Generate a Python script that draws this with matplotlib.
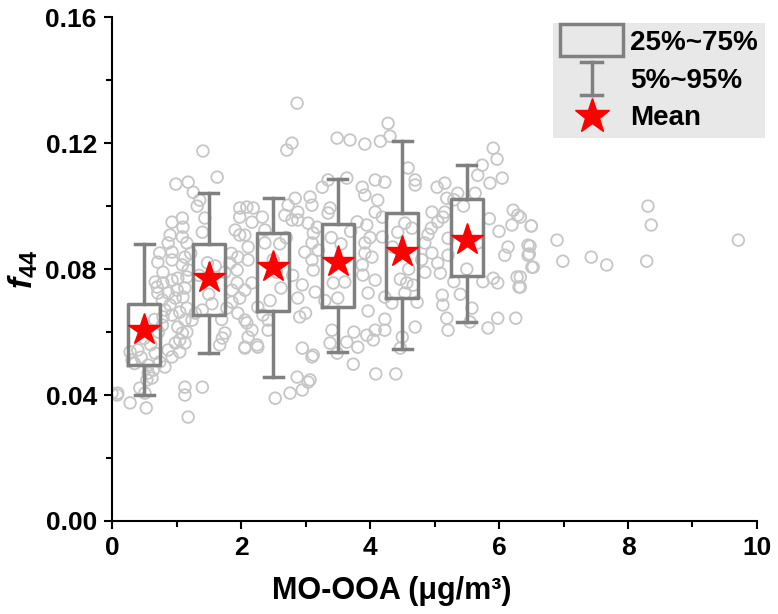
import numpy as np
import matplotlib
matplotlib.use('Agg')
import matplotlib.pyplot as plt
from matplotlib.patches import Rectangle
from matplotlib.lines import Line2D
from matplotlib.legend_handler import HandlerBase
from matplotlib.ticker import MultipleLocator

plt.rcParams['font.family'] = ['Liberation Sans', 'DejaVu Sans']
plt.rcParams['font.weight'] = 'bold'
plt.rcParams['mathtext.fontset'] = 'custom'
plt.rcParams['mathtext.rm'] = 'Liberation Sans:bold'
plt.rcParams['mathtext.it'] = 'Liberation Sans:italic:bold'
plt.rcParams['mathtext.bf'] = 'Liberation Sans:bold'

# individual samples (MO-OOA, f44)
mo_ooa = [
    6.90, 6.99, 7.43, 7.67, 8.31, 8.36, 8.29, 9.71,
    6.33, 6.50, 6.48, 6.47, 6.53, 6.33, 6.33,
    3.74, 4.09, 4.40, 3.97, 4.23, 3.75, 3.81, 3.41, 3.38, 3.64, 3.95, 4.08, 4.05,
    4.23, 4.50, 4.70, 4.47, 3.49, 5.12, 5.13, 5.19, 5.21, 5.58, 5.55, 5.83, 5.98,
    6.26, 5.91, 5.98, 6.28, 6.31, 6.51, 6.45, 6.09, 5.09, 5.05, 4.85, 4.96, 5.21,
    4.03, 3.89, 4.08, 3.97, 4.23, 4.34, 4.54, 4.57, 4.67, 4.73, 3.43, 3.61, 3.50,
    3.88, 4.47, 3.92,
    4.28, 3.49, 3.69, 3.92, 4.16, 4.31, 4.59, 5.91, 5.97, 5.74, 5.67, 5.86, 6.05,
    3.35, 3.64, 3.88, 4.08, 4.23, 4.70, 4.70, 5.04, 5.16, 5.19, 5.36, 5.63, 3.92,
    4.12, 3.38, 3.35, 4.08, 4.19, 3.95, 4.96, 5.13, 5.16, 6.22, 6.29, 6.50, 4.54,
    4.65, 4.19, 3.92, 4.43, 4.85, 5.21, 6.14, 6.45, 5.67,
    2.87, 2.79, 2.71, 1.41, 1.63, 0.99, 1.18, 1.26, 1.36, 1.32, 0.93, 1.09, 1.10,
    0.90, 1.09, 0.87, 1.16, 1.44, 1.40, 1.98, 2.09, 2.19, 1.98, 2.33, 1.91, 1.98,
    2.06, 2.17, 2.37, 2.11, 2.84, 2.73, 2.88, 2.68, 2.79, 2.88, 3.07, 3.10, 3.04,
    3.18, 3.12, 3.10, 3.26, 2.37,
    0.09, 0.28, 0.53, 0.43, 0.54, 0.62, 0.64, 0.56, 0.31, 0.28, 0.40, 0.67, 0.74,
    0.82, 0.87, 0.93, 1.05, 0.98, 1.05, 1.13, 1.09, 1.16, 1.02, 1.13, 0.93, 1.05,
    1.16, 0.90, 0.98, 1.10, 0.87, 1.01, 1.13, 0.79, 0.67, 0.93, 1.02, 1.16, 0.79,
    0.70, 0.71, 0.78, 0.82, 0.79, 0.78, 0.71, 0.93, 1.09, 1.18, 0.93, 1.13, 0.74,
    1.13, 1.40, 1.18, 0.51, 0.56, 1.24, 1.29, 1.40, 1.78, 1.86, 1.98, 2.06, 2.17,
    1.95, 2.06, 2.17, 2.11, 2.06, 2.26, 2.34, 2.42, 2.42, 2.26, 1.75, 1.71, 1.67,
    1.94, 1.94, 1.95, 2.11, 1.83, 1.75, 1.86, 2.99, 3.10, 3.12, 3.15, 2.88, 2.91,
    2.95, 3.10, 2.87, 2.95, 3.04, 2.76, 2.53, 1.13,
    0.08, 2.06, 2.25, 2.09, 3.07, 3.12, 0.00, 2.62, 2.55, 1.50, 1.55, 1.70, 2.45,
    2.60, 2.70, 1.35, 1.48, 1.22, 0.60, 0.72, 0.45, 0.35, 0.50, 0.66, 1.60, 1.85,
    2.50, 2.80, 3.30, 3.00, 2.95, 3.20, 3.40, 3.55, 3.70, 3.80, 4.00, 4.35, 4.60,
    4.80, 4.90, 5.30, 5.40, 5.50, 5.75, 5.85, 6.00, 6.20, 5.45, 5.30, 5.05, 4.95,
]
f44 = [
    0.0892, 0.0825, 0.0838, 0.0813, 0.1000, 0.0940, 0.0825, 0.0892,
    0.0965, 0.0937, 0.0873, 0.0848, 0.0806, 0.0775, 0.0743,
    0.0498, 0.0467, 0.0467, 0.0667, 0.0641, 0.0600, 0.0552, 0.0606, 0.0565, 0.0568,
    0.0590, 0.0606, 0.0575, 0.0606, 0.0584, 0.0616, 0.0549, 0.0533, 0.0717, 0.0686,
    0.0644, 0.0606, 0.0676, 0.0632, 0.0613, 0.0644, 0.0644, 0.0771, 0.0756, 0.0775,
    0.0743, 0.0806, 0.0844, 0.0844, 0.0787, 0.0819, 0.0790, 0.0851, 0.0844, 0.0838,
    0.0781, 0.0765, 0.0724, 0.0711, 0.0692, 0.0724, 0.0756, 0.0749, 0.0695, 0.0756,
    0.0759, 0.0708, 0.0813, 0.0768, 0.0851,
    0.1263, 0.1216, 0.1210, 0.1197, 0.1206, 0.1222, 0.1121, 0.1184, 0.1149, 0.1130,
    0.1098, 0.1073, 0.1089, 0.1083, 0.1089, 0.1060, 0.1083, 0.1076, 0.1083, 0.1067,
    0.1060, 0.1073, 0.1025, 0.1041, 0.1041, 0.1035, 0.1019, 0.0994, 0.0978, 0.0981,
    0.0965, 0.0940, 0.0981, 0.0965, 0.0981, 0.0987, 0.0971, 0.0937, 0.0946, 0.0930,
    0.0902, 0.0883, 0.0917, 0.0883, 0.0898, 0.0870, 0.0876, 0.0883,
    0.1327, 0.1200, 0.1178, 0.1175, 0.1092, 0.1070, 0.1076, 0.1044, 0.1019, 0.1000,
    0.0949, 0.0962, 0.0933, 0.0908, 0.0902, 0.0883, 0.0883, 0.0962, 0.0917, 0.0994,
    0.0997, 0.0994, 0.0965, 0.0965, 0.0924, 0.0908, 0.0908, 0.0949, 0.0924, 0.0870,
    0.1025, 0.1003, 0.0981, 0.0971, 0.0956, 0.0956, 0.1029, 0.1003, 0.0946, 0.0933,
    0.0914, 0.0883, 0.1060, 0.0883,
    0.0406, 0.0375, 0.0359, 0.0422, 0.0448, 0.0454, 0.0479, 0.0495, 0.0511, 0.0537,
    0.0543, 0.0533, 0.0505, 0.0489, 0.0543, 0.0521, 0.0537, 0.0565, 0.0575, 0.0565,
    0.0597, 0.0600, 0.0616, 0.0638, 0.0654, 0.0663, 0.0676, 0.0686, 0.0708, 0.0711,
    0.0724, 0.0733, 0.0740, 0.0756, 0.0759, 0.0765, 0.0771, 0.0775, 0.0790, 0.0743,
    0.0724, 0.0702, 0.0670, 0.0648, 0.0622, 0.0822, 0.0829, 0.0813, 0.0797, 0.0854,
    0.0838, 0.0851, 0.0425, 0.0425, 0.0330, 0.0406, 0.0470, 0.0638, 0.0660, 0.0670,
    0.0676, 0.0695, 0.0708, 0.0733, 0.0756, 0.0660, 0.0638, 0.0606, 0.0584, 0.0552,
    0.0552, 0.0654, 0.0638, 0.0606, 0.0679, 0.0597, 0.0581, 0.0559, 0.0756, 0.0797,
    0.0838, 0.0829, 0.0819, 0.0790, 0.0733, 0.0854, 0.0829, 0.0797, 0.0727, 0.0708,
    0.0648, 0.0549, 0.0521, 0.0457, 0.0416, 0.0441, 0.0406, 0.0390, 0.0400,
    0.0400, 0.0549, 0.0559, 0.0629, 0.0448, 0.0527, 0.0406, 0.0740, 0.0790, 0.0720,
    0.0690, 0.0640, 0.0700, 0.0880, 0.0900, 0.0780, 0.0820, 0.0850, 0.0560, 0.0600,
    0.0520, 0.0500, 0.0580, 0.0640, 0.0810, 0.0850, 0.0830, 0.0780, 0.0700, 0.0660,
    0.0750, 0.0860, 0.0900, 0.0880, 0.0920, 0.0950, 0.0900, 0.0870, 0.0800, 0.0830,
    0.0910, 0.0760, 0.0720, 0.0800, 0.0760, 0.0960, 0.0920, 0.0940, 0.1000, 0.1020,
    0.0950, 0.0930,
]

# binned statistics (1 ug/m3 bins)
bin_centers = [0.5, 1.5, 2.5, 3.5, 4.5, 5.5]
p5 = [0.0400, 0.0533, 0.0457, 0.0537, 0.0546, 0.0632]
p25 = [0.0495, 0.0654, 0.0667, 0.0679, 0.0708, 0.0778]
p75 = [0.0689, 0.0879, 0.0914, 0.0943, 0.0978, 0.1022]
p95 = [0.0879, 0.1041, 0.1025, 0.1086, 0.1206, 0.1130]
means = [0.0606, 0.0771, 0.0806, 0.0822, 0.0854, 0.0892]

gray = '#808080'


class BoxHandler(HandlerBase):
    def create_artists(self, legend, orig_handle, xdescent, ydescent,
                       width, height, fontsize, trans):
        r = Rectangle((-xdescent, -ydescent - 0.32 * height), width, 1.64 * height,
                      facecolor='none', edgecolor=gray, lw=2.5, transform=trans)
        return [r]


class WhiskerHandler(HandlerBase):
    def create_artists(self, legend, orig_handle, xdescent, ydescent,
                       width, height, fontsize, trans):
        cx = -xdescent + width / 2
        y0 = -ydescent - 0.4 * height
        y1 = -ydescent + 1.3 * height
        cw = 0.17 * width
        arts = [Line2D([cx, cx], [y0, y1], color=gray, lw=2.5, transform=trans),
                Line2D([cx - cw, cx + cw], [y0, y0], color=gray, lw=2.5, transform=trans),
                Line2D([cx - cw, cx + cw], [y1, y1], color=gray, lw=2.5, transform=trans)]
        return arts


fig = plt.figure(figsize=(7.78, 6.14), dpi=100)
ax = fig.add_axes([0.144, 0.1515, 0.829, 0.8205])

ax.scatter(mo_ooa, f44, s=70, facecolors='none', edgecolors='#c6c6c6',
           linewidths=1.3, zorder=1)

stats = []
for i in range(len(bin_centers)):
    stats.append(dict(med=means[i], q1=p25[i], q3=p75[i],
                      whislo=p5[i], whishi=p95[i], fliers=[]))
ax.bxp(stats, positions=bin_centers, widths=0.5, showfliers=False,
       manage_ticks=False,
       boxprops=dict(color=gray, lw=2.5),
       whiskerprops=dict(color=gray, lw=2.5),
       capprops=dict(color=gray, lw=2.5),
       medianprops=dict(lw=0), capwidths=0.3)
ax.plot(bin_centers, means, linestyle='none', marker='*', ms=24,
        color='#ff0000', mec='#ff0000', zorder=5)

ax.set_xlim(0, 10)
ax.set_ylim(0, 0.16)
ax.xaxis.set_major_locator(MultipleLocator(2))
ax.xaxis.set_minor_locator(MultipleLocator(1))
ax.yaxis.set_major_locator(MultipleLocator(0.04))
ax.yaxis.set_minor_locator(MultipleLocator(0.02))
ax.yaxis.set_major_formatter(plt.FormatStrFormatter('%.2f'))
ax.tick_params(which='major', direction='out', length=6, width=1.5, labelsize=19, pad=5)
ax.tick_params(which='minor', direction='out', length=4, width=1.5)
for s in ['top', 'right']:
    ax.spines[s].set_visible(False)
for s in ['left', 'bottom']:
    ax.spines[s].set_linewidth(1.5)

ax.set_xlabel('MO-OOA (μg/m³)', fontsize=22, fontweight='bold', labelpad=14)
ax.xaxis.set_label_coords(0.434, -0.11)
ax.set_ylabel(r'$\mathit{f_{44}}$', fontsize=24, labelpad=4)

h_box = Rectangle((0, 0), 1, 1)
h_wh = Line2D([], [])
h_star = Line2D([], [], linestyle='none', marker='*', ms=26, color='#ff0000')
leg = fig.legend([h_box, h_wh, h_star], ['25%~75%', '5%~95%', 'Mean'],
                 handler_map={h_box: BoxHandler(), h_wh: WhiskerHandler()},
                 loc='upper right', bbox_to_anchor=(0.983, 0.9625),
                 bbox_transform=fig.transFigure, borderaxespad=0,
                 fontsize=20, frameon=True, fancybox=False,
                 facecolor='#e8e8e8', edgecolor='none', framealpha=1,
                 handlelength=2.27, labelspacing=0.42, handletextpad=0.25,
                 borderpad=0.25)
plt.savefig('out.png', dpi=100)
